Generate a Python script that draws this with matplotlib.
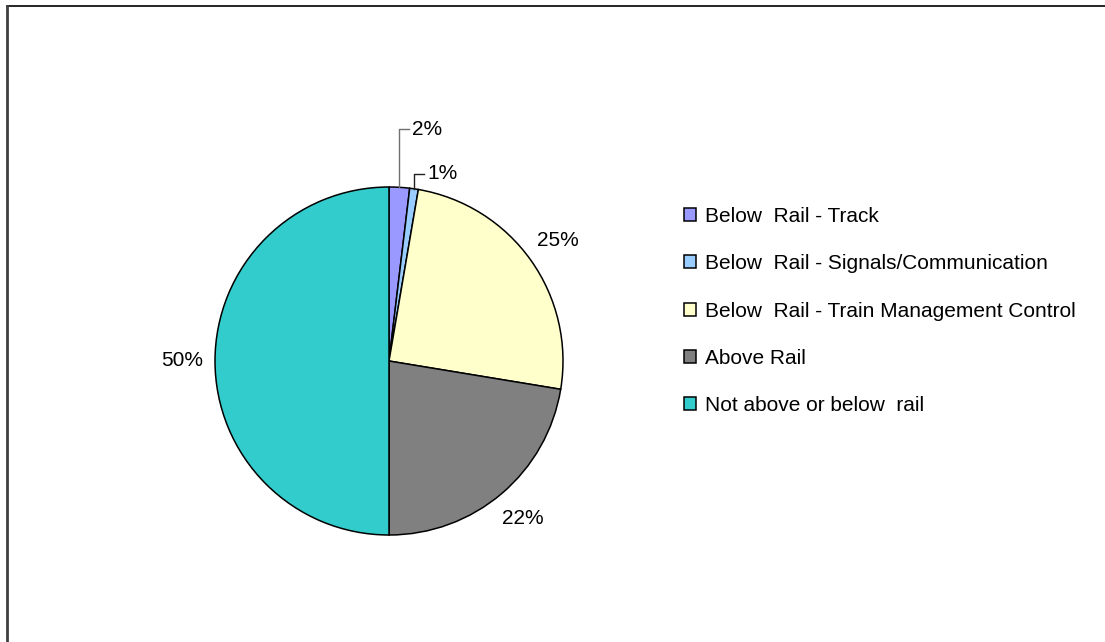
import numpy as np
import matplotlib
matplotlib.use('Agg')
import matplotlib.pyplot as plt

categories = ['Below  Rail - Track',
              'Below  Rail - Signals/Communication',
              'Below  Rail - Train Management Control',
              'Above Rail',
              'Not above or below  rail']
# shares; labels are the rounded values shown
values = [1.9, 0.8, 24.9, 22.4, 50.0]
pct_labels = ['2%', '1%', '25%', '22%', '50%']
colors = ['#9999FF', '#99CCFF', '#FFFFCC', '#808080', '#33CCCC']

plt.rcParams['font.family'] = ['Liberation Sans', 'DejaVu Sans']

W, H = 1105, 642
fig = plt.figure(figsize=(W / 100, H / 100), dpi=100)
ax = fig.add_axes([0, 0, 1, 1])

cx, cy, r = 389, 361, 174
# y axis is flipped below, so counterclock here draws clockwise on screen
wedges, _ = ax.pie(values, colors=colors, startangle=-90, counterclock=True,
                   center=(cx, cy), radius=r,
                   wedgeprops=dict(edgecolor='black', linewidth=1.1))

ax.set_xlim(0, W)
ax.set_ylim(H, 0)
ax.set_aspect('auto')
ax.axis('off')

fs = 15
for i, w in enumerate(wedges):
    mid = np.deg2rad((w.theta1 + w.theta2) / 2)
    ex, ey = cx + r * np.cos(mid), cy + r * np.sin(mid)
    if values[i] < 5:
        # small slices: label lifted up with an elbow leader line
        rise = 58 if i == 0 else 15
        ty = ey - rise
        lc = '#707070' if i == 0 else '#202020'
        ax.plot([ex, ex, ex + 10], [ey, ty, ty], color=lc, lw=1.0)
        ax.text(ex + 13, ty, pct_labels[i], fontsize=fs, ha='left', va='center')
    else:
        d = 1.19 * r
        ax.text(cx + d * np.cos(mid), cy + d * np.sin(mid), pct_labels[i],
                fontsize=fs, ha='center', va='center')

leg = ax.legend(wedges, categories, loc='center left',
                bbox_to_anchor=(684, 311), bbox_transform=ax.transData,
                frameon=False, fontsize=fs, borderpad=0, borderaxespad=0,
                handlelength=0.58, handleheight=0.58, handletextpad=0.42,
                labelspacing=1.36)

# outer chart border (only top and left visible)
ax.plot([7, W], [6, 6], color='black', lw=1.2, clip_on=False)
ax.plot([7, 7], [6, H], color='#404040', lw=2.0, clip_on=False)

fig.savefig('out.png', dpi=100)
